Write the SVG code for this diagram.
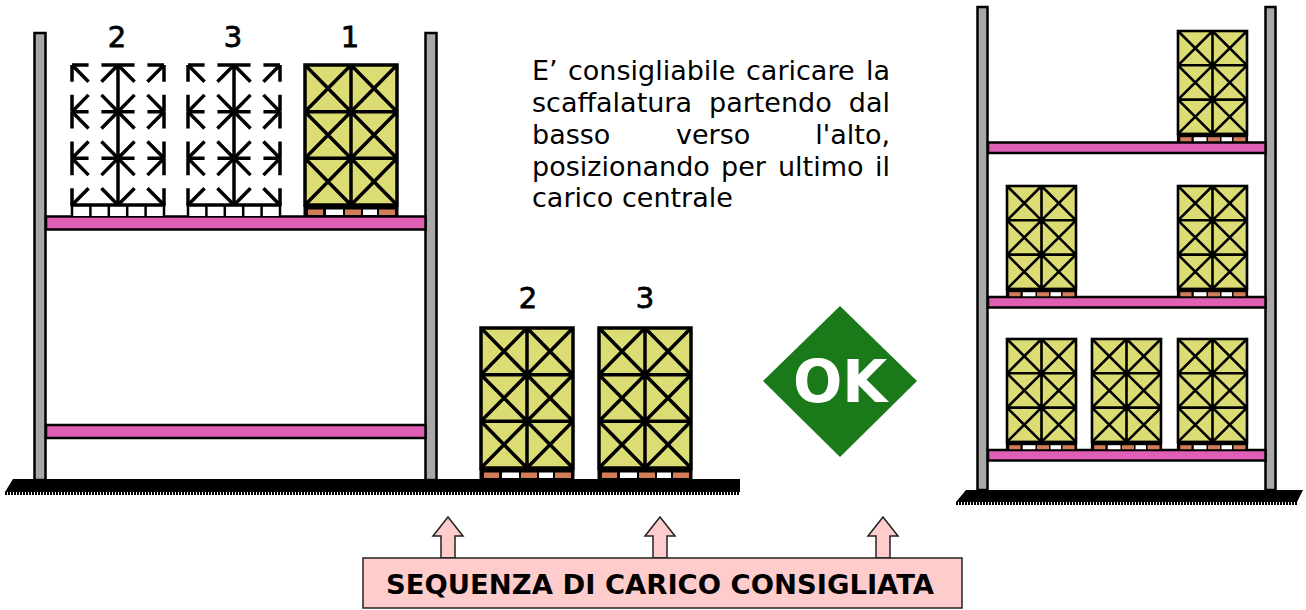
<svg xmlns="http://www.w3.org/2000/svg" xmlns:xlink="http://www.w3.org/1999/xlink" width="1306" height="610" viewBox="0 0 1306 610">
  <style>
    .upright{fill:#a8a8a8;stroke:#000;stroke-width:2.5}
    .beam{fill:#df5fb5;stroke:#000;stroke-width:2.5}
    .floor{fill:#000}
    .fringe{stroke:#000;stroke-width:3;stroke-dasharray:2 1}
    .grid{stroke:#000;stroke-width:3.5;fill:none}
    .ghost{stroke:#000;stroke-width:3.5;fill:none;stroke-dasharray:36 28 36}
    .num{font-family:"DejaVu Sans",Verdana,sans-serif;font-size:29px;fill:#000;stroke:#000;stroke-width:0.8;text-anchor:middle}
    .para{font-family:"DejaVu Sans",Verdana,sans-serif;font-size:27px;fill:#000}
    .end{text-anchor:end}
    .arrow{fill:#ffcccc;stroke:#222;stroke-width:1.5;stroke-linejoin:miter}
  </style>
  <defs>
    <!-- loaded pallet: body 92x140, wooden base 11 high -->
    <g id="pallet">
      <rect x="0" y="0" width="92" height="140" fill="#dcdc74"/>
      <path class="grid" d="M0 46.67H92M0 93.33H92M46 0V140
        M0 0L46 46.67M46 0L0 46.67M46 0L92 46.67M92 0L46 46.67
        M0 46.67L46 93.33M46 46.67L0 93.33M46 46.67L92 93.33M92 46.67L46 93.33
        M0 93.33L46 140M46 93.33L0 140M46 93.33L92 140M92 93.33L46 140"/>
      <rect class="grid" x="0" y="0" width="92" height="140"/>
      <rect x="-1.5" y="140" width="95" height="11" fill="#000"/>
      <rect x="3" y="144.5" width="15" height="5.5" fill="#d27c58"/>
      <rect x="21" y="144.5" width="17" height="5.5" fill="#fff"/>
      <rect x="40" y="144.5" width="16" height="5.5" fill="#d27c58"/>
      <rect x="58" y="144.5" width="14" height="5.5" fill="#fff"/>
      <rect x="74" y="144.5" width="16" height="5.5" fill="#d27c58"/>
    </g>
    <!-- pallet still to be placed: only the ends of each edge are drawn -->
    <g id="ghost-pallet">
      <rect x="0" y="140" width="92" height="11" fill="#fff"/>
      <g class="ghost">
        <line x1="0" y1="0" x2="46" y2="0" pathLength="100"/>
        <line x1="46" y1="0" x2="92" y2="0" pathLength="100"/>
        <line x1="0" y1="46.67" x2="46" y2="46.67" pathLength="100"/>
        <line x1="46" y1="46.67" x2="92" y2="46.67" pathLength="100"/>
        <line x1="0" y1="93.33" x2="46" y2="93.33" pathLength="100"/>
        <line x1="46" y1="93.33" x2="92" y2="93.33" pathLength="100"/>
        <line x1="0" y1="0" x2="0" y2="46.67" pathLength="100"/>
        <line x1="0" y1="46.67" x2="0" y2="93.33" pathLength="100"/>
        <line x1="0" y1="93.33" x2="0" y2="140" pathLength="100"/>
        <line x1="92" y1="0" x2="92" y2="46.67" pathLength="100"/>
        <line x1="92" y1="46.67" x2="92" y2="93.33" pathLength="100"/>
        <line x1="92" y1="93.33" x2="92" y2="140" pathLength="100"/>
        <line x1="0" y1="0" x2="46" y2="46.67" pathLength="100"/>
        <line x1="46" y1="0" x2="0" y2="46.67" pathLength="100"/>
        <line x1="46" y1="0" x2="92" y2="46.67" pathLength="100"/>
        <line x1="92" y1="0" x2="46" y2="46.67" pathLength="100"/>
        <line x1="0" y1="46.67" x2="46" y2="93.33" pathLength="100"/>
        <line x1="46" y1="46.67" x2="0" y2="93.33" pathLength="100"/>
        <line x1="46" y1="46.67" x2="92" y2="93.33" pathLength="100"/>
        <line x1="92" y1="46.67" x2="46" y2="93.33" pathLength="100"/>
        <line x1="0" y1="93.33" x2="46" y2="140" pathLength="100"/>
        <line x1="46" y1="93.33" x2="0" y2="140" pathLength="100"/>
        <line x1="46" y1="93.33" x2="92" y2="140" pathLength="100"/>
        <line x1="92" y1="93.33" x2="46" y2="140" pathLength="100"/>
      </g>
      <path class="grid" d="M46 0V140M-1.5 140H93.5"/>
      <path d="M0 140V151M18.4 140V151M36.8 140V151M55.2 140V151M73.6 140V151M92 140V151" stroke="#000" stroke-width="2.5"/>
    </g>
  </defs>

  <!-- left rack: being loaded -->
  <g id="left-rack">
    <polygon class="floor" points="13,479 740,479 740,492 5,492"/>
    <line class="fringe" x1="5" y1="493.5" x2="740" y2="493.5"/>
    <rect class="upright" x="34.5" y="33" width="11" height="447"/>
    <rect class="upright" x="425.5" y="33" width="11" height="447"/>
    <rect class="beam" x="46" y="216.5" width="379.5" height="13"/>
    <rect class="beam" x="46" y="425" width="379.5" height="13"/>
  </g>

  <g id="pallet-top-2">
    <use xlink:href="#ghost-pallet" transform="translate(72,65)"/>
    <text class="num" x="117" y="47">2</text>
  </g>
  <g id="pallet-top-3">
    <use xlink:href="#ghost-pallet" transform="translate(188,65)"/>
    <text class="num" x="233" y="47">3</text>
  </g>
  <g id="pallet-top-1">
    <use xlink:href="#pallet" transform="translate(305,65)"/>
    <text class="num" x="350" y="47">1</text>
  </g>

  <g id="pallet-floor-2">
    <use xlink:href="#pallet" transform="translate(481,328)"/>
    <text class="num" x="528" y="308">2</text>
  </g>
  <g id="pallet-floor-3">
    <use xlink:href="#pallet" transform="translate(599,328)"/>
    <text class="num" x="645" y="308">3</text>
  </g>

  <!-- advice text, justified word by word -->
  <g id="advice">
    <text class="para" y="80"><tspan x="532">E’</tspan><tspan x="568">consigliabile</tspan><tspan x="746">caricare</tspan></text>
    <text class="para end" x="890" y="80">la</text>
    <text class="para" y="112"><tspan x="532">scaffalatura</tspan><tspan x="709">partendo</tspan></text>
    <text class="para end" x="890" y="112">dal</text>
    <text class="para" y="144"><tspan x="532">basso</tspan><tspan x="676">verso</tspan></text>
    <text class="para end" x="890" y="144">l'alto,</text>
    <text class="para" y="176"><tspan x="532">posizionando</tspan><tspan x="721">per</tspan><tspan x="778">ultimo</tspan></text>
    <text class="para end" x="890" y="176">il</text>
    <text class="para" x="532" y="207">carico centrale</text>
  </g>

  <g id="ok-sign">
    <polygon points="840,306 917,381 840,457 763,381" fill="#1a7a1a"/>
    <text x="840" y="402" font-family="'DejaVu Sans',Verdana,sans-serif" font-weight="bold" font-size="58" fill="#fff" text-anchor="middle">OK</text>
  </g>

  <!-- right rack: fully loaded -->
  <g id="right-rack">
    <polygon class="floor" points="966,490 1303,490 1297,502 956,502"/>
    <line class="fringe" x1="956" y1="503.5" x2="1297" y2="503.5"/>
    <rect class="upright" x="977.5" y="7" width="10" height="483"/>
    <rect class="upright" x="1265.5" y="7" width="10" height="483"/>
    <rect class="beam" x="988" y="142.5" width="277.5" height="10.5"/>
    <rect class="beam" x="988" y="297" width="277.5" height="10.5"/>
    <rect class="beam" x="988" y="450" width="277.5" height="10.5"/>
    <use xlink:href="#pallet" transform="translate(1178,31) scale(0.75,0.735)"/>
    <use xlink:href="#pallet" transform="translate(1007,186) scale(0.75,0.735)"/>
    <use xlink:href="#pallet" transform="translate(1178,186) scale(0.75,0.735)"/>
    <use xlink:href="#pallet" transform="translate(1007,339) scale(0.75,0.735)"/>
    <use xlink:href="#pallet" transform="translate(1092,339) scale(0.75,0.735)"/>
    <use xlink:href="#pallet" transform="translate(1178,339) scale(0.75,0.735)"/>
  </g>

  <!-- arrows pointing up from the caption -->
  <g id="connectors">
    <polygon class="arrow" points="448,517 463,536 455,536 455,558 441,558 441,536 433,536"/>
    <polygon class="arrow" points="660,517 675,536 667,536 667,558 653,558 653,536 645,536"/>
    <polygon class="arrow" points="883,517 898,536 890,536 890,558 876,558 876,536 868,536"/>
  </g>

  <g id="caption">
    <rect x="363" y="558" width="599" height="50" fill="#ffcccc" stroke="#222" stroke-width="1.5"/>
    <text x="386" y="594" font-family="'DejaVu Sans',Verdana,sans-serif" font-weight="bold" font-size="26" fill="#000" textLength="548" lengthAdjust="spacingAndGlyphs">SEQUENZA DI CARICO CONSIGLIATA</text>
  </g>
</svg>
